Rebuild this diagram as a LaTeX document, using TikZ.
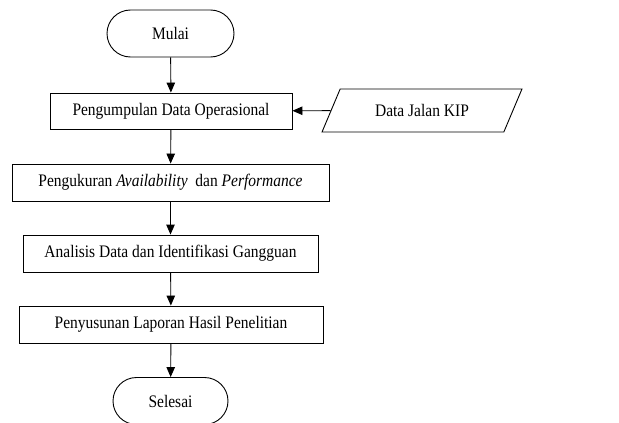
\documentclass[tikz,border=0pt]{standalone}
\usepackage{fontspec}
\setmainfont{Liberation Serif}[FakeStretch=0.88]
\usetikzlibrary{shapes.misc,shapes.geometric,arrows.meta}

\tikzset{every node/.style={font=\fontsize{17.6}{20}\selectfont},
  proses/.style={draw,rectangle,minimum height=36pt,inner sep=0pt},
  terminal/.style={draw,rounded rectangle,minimum height=47pt,inner sep=0pt},
  masukan/.style={draw,trapezium,trapezium left angle=50,trapezium right angle=130,
    trapezium stretches=true,minimum width=200pt,minimum height=43pt,inner sep=0pt},
  panah/.style={-{Triangle[length=10pt,width=8.5pt]}}}

\begin{document}
\begin{tikzpicture}[x=1pt,y=-1pt,line width=0.9pt]
  \useasboundingbox (0,0) rectangle (619,423);
  \node[terminal,minimum width=127pt] (mulai) at (170.5,33.5) {Mulai};
  \node[proses,minimum width=242pt] (kumpul) at (171,111) {Pengumpulan Data Operasional};
  \node[masukan] (data) at (422,110.5) {Data Jalan KIP};
  \node[proses,minimum width=317pt,minimum height=37pt] (ukur) at (170.5,182.5) {Pengukuran \textit{Availability}\ \ dan \textit{Performance}};
  \node[proses,minimum width=295pt,minimum height=37pt] (analisis) at (170.5,253.5) {Analisis Data dan Identifikasi Gangguan};
  \node[proses,minimum width=304pt,minimum height=37pt] (laporan) at (171,324.5) {Penyusunan Laporan Hasil Penelitian};
  \node[terminal,minimum width=115pt] (selesai) at (170.5,401) {Selesai};
  \draw[panah] (mulai) -- (kumpul);
  \draw[panah] (data) -- (kumpul);
  \draw[panah] (kumpul) -- (ukur);
  \draw[panah] (ukur) -- (analisis);
  \draw[panah] (analisis) -- (laporan);
  \draw[panah] (laporan) -- (selesai);
\end{tikzpicture}
\end{document}
